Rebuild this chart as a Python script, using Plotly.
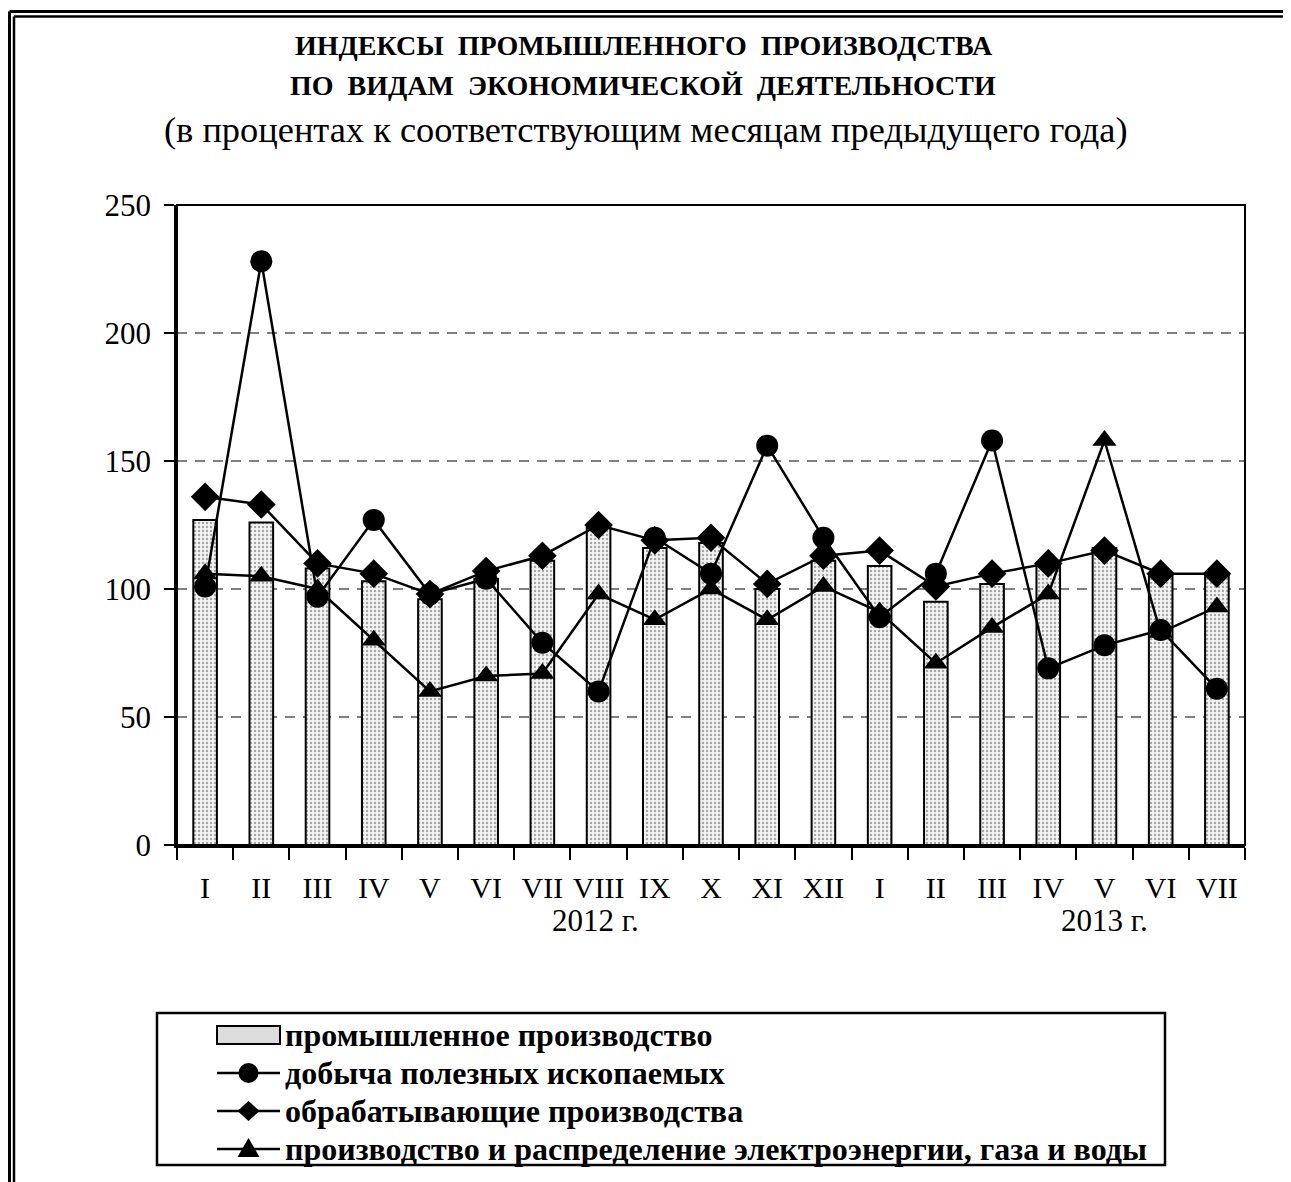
import plotly.graph_objects as go

months = ["I", "II", "III", "IV", "V", "VI", "VII", "VIII", "IX", "X", "XI", "XII",
          "I", "II", "III", "IV", "V", "VI", "VII"]
industry = [127, 126, 108, 103, 96, 104, 111, 124, 116, 118, 100, 111,
            109, 95, 102, 109, 116, 106, 106]
mining = [101, 228, 97, 127, 98, 104, 79, 60, 120, 106, 156, 120,
          89, 106, 158, 69, 78, 84, 61]
manufacturing = [136, 133, 110, 106, 98, 107, 113, 125, 119, 120, 102, 113,
                 115, 101, 106, 110, 115, 106, 106]
energy = [106, 105, 100, 80, 60, 66, 67, 98, 88, 100, 88, 101,
          91, 71, 85, 98, 158, 83, 93]
years = ["2012 г.", "2013 г."]
names = ["промышленное производство", "добыча полезных ископаемых",
         "обрабатывающие производства",
         "производство и распределение электроэнергии, газа и воды"]

x = list(range(len(months)))
SERIF = "Liberation Serif"

OFF = 8  # page body margin
W, H = 1291 - OFF, 1182 - OFF
# plot area in page pixels
PL, PR, PT, PB = 177, 1245, 205, 845
L, R, T, B = PL - OFF, W - (PR - OFF), PT - OFF, H - (PB - OFF)
pw = PR - PL
ph = PB - PT


def px_x(p):
    return (p - PL) / pw


def px_y(p):
    return (PB - p) / ph


fig = go.Figure()
fig.add_trace(go.Bar(
    x=x, y=industry, name=names[0], width=0.42, showlegend=False,
    marker=dict(color="white", line=dict(color="black", width=2),
                pattern=dict(shape=".", fgcolor="#5a5a5a", bgcolor="#f4f4f4",
                             size=4, solidity=0.3)),
))
series = [(mining, "circle", 22, names[1]),
          (manufacturing, "diamond", 22, names[2]),
          (energy, "triangle-up", 21, names[3])]
for vals, sym, sz, nm in series:
    fig.add_trace(go.Scatter(
        x=x, y=vals, name=nm, mode="lines+markers", showlegend=False,
        line=dict(color="black", width=2.5),
        marker=dict(symbol=sym, size=sz, color="black"),
    ))

fig.update_layout(
    width=W, height=H,
    margin=dict(l=L, r=R, t=T, b=B),
    paper_bgcolor="white", plot_bgcolor="white",
    font=dict(family=SERIF, color="black"),
    showlegend=False,
    xaxis=dict(
        range=[-0.5, len(months) - 0.5],
        tickmode="array", tickvals=x, ticktext=months,
        ticks="", showgrid=False, zeroline=False,
        showline=True, linecolor="black", linewidth=2.5,
        tickfont=dict(family=SERIF, size=30, color="black"),
        ticklabelstandoff=14,
        minor=dict(tickmode="linear", tick0=-0.5, dtick=1, ticks="outside",
                   ticklen=12, tickwidth=2, tickcolor="black", showgrid=False),
        fixedrange=True,
    ),
    yaxis=dict(
        range=[0, 250], tickmode="linear", tick0=0, dtick=50,
        ticks="outside", ticklen=10, tickwidth=2, tickcolor="black",
        showgrid=True, gridcolor="#808080", gridwidth=2, griddash="10px,8px",
        zeroline=False, showline=True, linecolor="black", linewidth=2.5,
        tickfont=dict(family=SERIF, size=31, color="black"),
        ticklabelstandoff=7,
        fixedrange=True,
    ),
)

# plot frame (top / right)
fig.add_shape(type="rect", xref="paper", yref="paper", x0=0, x1=1, y0=0, y1=1,
              line=dict(color="black", width=2), layer="above")

# outer double frame (top + left visible)
for (xo, yo, wdt) in [(9.5, 11.5, 3), (14, 16.5, 2.5)]:
    fig.add_shape(type="line", xref="paper", yref="paper",
                  x0=px_x(xo), x1=px_x(1300), y0=px_y(yo), y1=px_y(yo),
                  line=dict(color="black", width=wdt))
    fig.add_shape(type="line", xref="paper", yref="paper",
                  x0=px_x(xo), x1=px_x(xo), y0=px_y(yo), y1=px_y(1200),
                  line=dict(color="black", width=wdt))

# titles
fig.add_annotation(text="<b>ИНДЕКСЫ  ПРОМЫШЛЕННОГО  ПРОИЗВОДСТВА</b>",
                   xref="paper", yref="paper", x=px_x(644), y=px_y(45),
                   xanchor="center", yanchor="middle",
                   showarrow=False, font=dict(family=SERIF, size=28))
fig.add_annotation(text="<b>ПО  ВИДАМ  ЭКОНОМИЧЕСКОЙ  ДЕЯТЕЛЬНОСТИ</b>",
                   xref="paper", yref="paper", x=px_x(643), y=px_y(86),
                   xanchor="center", yanchor="middle",
                   showarrow=False, font=dict(family=SERIF, size=28))
fig.add_annotation(text="(в процентах к соответствующим месяцам предыдущего года)",
                   xref="paper", yref="paper", x=px_x(646), y=px_y(130),
                   xanchor="center", yanchor="middle",
                   showarrow=False, font=dict(family=SERIF, size=36.4))
# years
for xv, txt in [(6.94, years[0]), (16.0, years[1])]:
    fig.add_annotation(text=txt, xref="x", yref="paper", x=xv, y=px_y(920),
                       xanchor="center", yanchor="middle",
                       showarrow=False, font=dict(family=SERIF, size=31))

# custom legend
fig.add_shape(type="rect", xref="paper", yref="paper",
              x0=px_x(157), x1=px_x(1165), y0=px_y(1165), y1=px_y(1013),
              line=dict(color="black", width=2.5))
rows = [1035, 1073, 1111, 1149]
sx0, sx1, sxc = 217, 280, 248.5
# bar swatch
fig.add_shape(type="rect", xref="paper", yref="paper",
              x0=px_x(sx0), x1=px_x(sx1), y0=px_y(rows[0] + 9), y1=px_y(rows[0] - 9),
              fillcolor="#dcdcdc", line=dict(color="black", width=2))
for i in range(1, 4):
    yr = rows[i]
    fig.add_shape(type="line", xref="paper", yref="paper",
                  x0=px_x(sx0), x1=px_x(sx1), y0=px_y(yr), y1=px_y(yr),
                  line=dict(color="black", width=2.5))
# circle
fig.add_shape(type="circle", xref="paper", yref="paper",
              x0=px_x(sxc - 10), x1=px_x(sxc + 10),
              y0=px_y(rows[1] + 10), y1=px_y(rows[1] - 10),
              fillcolor="black", line=dict(color="black", width=0))
# diamond
yd = rows[2]
fig.add_shape(type="path", xref="paper", yref="paper",
              path=(f"M {px_x(sxc - 11)} {px_y(yd)} L {px_x(sxc)} {px_y(yd - 10)} "
                    f"L {px_x(sxc + 11)} {px_y(yd)} L {px_x(sxc)} {px_y(yd + 10)} Z"),
              fillcolor="black", line=dict(color="black", width=0))
# triangle
yt = rows[3]
fig.add_shape(type="path", xref="paper", yref="paper",
              path=(f"M {px_x(sxc - 11)} {px_y(yt + 8)} L {px_x(sxc)} {px_y(yt - 11)} "
                    f"L {px_x(sxc + 11)} {px_y(yt + 8)} Z"),
              fillcolor="black", line=dict(color="black", width=0))
for nm, yr in zip(names, rows):
    fig.add_annotation(text=f"<b>{nm}</b>", xref="paper", yref="paper",
                       x=px_x(283), y=px_y(yr), xanchor="left", yanchor="middle",
                       showarrow=False, font=dict(family=SERIF, size=32))

fig.write_html("out.html")
